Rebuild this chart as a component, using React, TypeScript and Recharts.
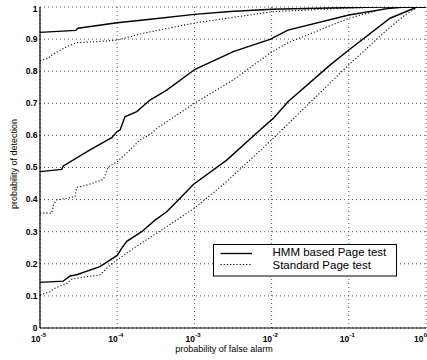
import React from 'react';
import { LineChart, Line, XAxis, YAxis, CartesianGrid, Legend } from 'recharts';

const xTicks = [1e-5, 1e-4, 1e-3, 1e-2, 1e-1, 1];
const yTicks = [0, 0.1, 0.2, 0.3, 0.4, 0.5, 0.6, 0.7, 0.8, 0.9, 1];

const hmmHighPfa = [1e-5, 2.9e-5, 3.1e-5, 1e-4, 2.7e-4, 1e-3, 2.9e-3, 1e-2, 5.7e-2, 0.25, 1];
const hmmHighPd = [0.921, 0.927, 0.934, 0.951, 0.962, 0.977, 0.986, 0.993, 0.997, 1.0, 1.0];

const stdHighPfa = [1e-5, 1.28e-5, 1.35e-5, 1.91e-5, 2.22e-5, 2.99e-5, 5.42e-5, 1e-4, 2.16e-4, 1e-3, 1e-2, 0.1, 0.32, 1];
const stdHighPd = [0.833, 0.84, 0.847, 0.868, 0.876, 0.889, 0.892, 0.897, 0.918, 0.95, 0.985, 0.997, 1.0, 1.0];

const hmmMidPfa = [1e-5, 1.91e-5, 2.01e-5, 4.44e-5, 8.49e-5, 1e-4, 1.09e-4, 1.26e-4, 1.79e-4, 2.66e-4, 4.38e-4, 1.02e-3, 3.19e-3, 9.53e-3, 1.63e-2, 0.1, 0.316, 0.535, 1];
const hmmMidPd = [0.487, 0.494, 0.505, 0.555, 0.593, 0.612, 0.617, 0.658, 0.674, 0.71, 0.741, 0.806, 0.861, 0.899, 0.928, 0.975, 0.995, 1.0, 1.0];

const stdMidPfa = [1e-5, 1.42e-5, 1.49e-5, 1.64e-5, 2.22e-5, 2.84e-5, 2.99e-5, 4.02e-5, 6.61e-5, 7.67e-5, 1e-4, 1.47e-4, 1.97e-4, 2.66e-4, 3.4e-4, 1e-3, 3.19e-3, 9.53e-3, 1.57e-2, 0.1, 0.206, 0.342, 1];
const stdMidPd = [0.358, 0.358, 0.383, 0.399, 0.404, 0.409, 0.438, 0.445, 0.463, 0.502, 0.518, 0.555, 0.586, 0.603, 0.625, 0.7, 0.773, 0.856, 0.887, 0.965, 0.985, 1.0, 1.0];

const hmmLowPfa = [1e-5, 2.0e-5, 2.45e-5, 2.99e-5, 5.98e-5, 1e-4, 1.14e-4, 1.33e-4, 2.08e-4, 3.09e-4, 4.38e-4, 6.51e-4, 9.69e-4, 2.62e-3, 7.08e-3, 1.05e-2, 1.63e-2, 5.7e-2, 0.1, 0.342, 0.764, 1];
const hmmLowPd = [0.142, 0.146, 0.162, 0.166, 0.191, 0.226, 0.248, 0.27, 0.3, 0.336, 0.362, 0.404, 0.447, 0.523, 0.617, 0.653, 0.705, 0.819, 0.866, 0.965, 1.0, 1.0];

const stdLowPfa = [1e-5, 1.35e-5, 1.56e-5, 2.22e-5, 2.58e-5, 4.02e-5, 5.98e-5, 8.07e-5, 1e-4, 1.62e-4, 4.38e-4, 1e-3, 2.62e-3, 1e-2, 0.1, 0.316, 0.535, 0.787, 1];
const stdLowPd = [0.103, 0.113, 0.124, 0.139, 0.152, 0.16, 0.165, 0.196, 0.212, 0.248, 0.316, 0.373, 0.456, 0.586, 0.82, 0.93, 0.975, 1.0, 1.0];

const zip = (xs: number[], ys: number[]) => xs.map((x, i) => ({ pfa: x, pd: ys[i] }));

const FONT = '"Liberation Sans", Arial, Helvetica, sans-serif';

const XTick = (props: any) => {
  const { x, y, payload } = props;
  const exp = Math.round(Math.log10(payload.value));
  return (
    <g>
      <text x={x + 0.5} y={y + 13.7} textAnchor="end" fontSize={8.5} fontWeight="bold" fontFamily={FONT} fill="#000">10</text>
      <text x={x + 0.8} y={y + 9} textAnchor="start" fontSize={6} fontWeight="bold" fontFamily={FONT} fill="#000">{exp}</text>
    </g>
  );
};

const YTick = (props: any) => {
  const { x, y, payload } = props;
  const v = payload.value;
  const label = v === 0 ? '0' : v === 1 ? '1' : v.toFixed(1);
  return (
    <text x={x} y={y} dy="0.33em" textAnchor="end" fontSize={8.5} fontWeight="bold" fontFamily={FONT} fill="#000">{label}</text>
  );
};

const XLabel = (props: any) => {
  const { viewBox } = props;
  return (
    <text x={viewBox.x + 184} y={viewBox.y + 24} textAnchor="middle" fontSize={9} fontFamily={FONT} fill="#000">probability of false alarm</text>
  );
};

const YLabel = (props: any) => {
  const { viewBox } = props;
  const cx = viewBox.x + 17;
  const cy = viewBox.y + 157;
  return (
    <text x={cx} y={cy} transform={`rotate(-90 ${cx} ${cy})`} textAnchor="middle" fontSize={9} fontFamily={FONT} fill="#000">probability of detection</text>
  );
};

const LegendBox = (props: any) => {
  const items = (props.payload || []).filter((p: any) => p.type !== 'none' && p.value);
  return (
    <svg width={184} height={33} style={{ display: 'block' }}>
      <rect x={0.5} y={0.5} width={183} height={31.5} fill="#fff" stroke="#000" strokeWidth={1} />
      {items.map((it: any, i: number) => (
        <g key={i}>
          <line x1={7.5} x2={39} y1={9.5 + i * 11} y2={9.5 + i * 11} stroke="#000" strokeWidth={it.payload && it.payload.strokeDasharray ? 1.1 : 1.3} strokeDasharray={it.payload ? it.payload.strokeDasharray : undefined} />
          <text x={59.5} y={12.2 + i * 12.8} fontSize={11.5} fontFamily={FONT} fill="#000">{it.value}</text>
        </g>
      ))}
    </svg>
  );
};

export default function App() {
  const solid = { stroke: '#000', strokeWidth: 1.4 };
  const dotted = { stroke: '#111', strokeWidth: 1.1, strokeDasharray: '1.2 2' };
  return (
    <div style={{ position: 'absolute', left: 0, top: 0, background: '#fff' }}>
      <LineChart width={427} height={360} margin={{ top: 7, right: 1, bottom: 0, left: 0 }}>
        <CartesianGrid stroke="#555" strokeDasharray="1 3" strokeWidth={1} />
        <XAxis
          dataKey="pfa"
          type="number"
          scale="log"
          domain={[1e-5, 1]}
          ticks={xTicks}
          allowDataOverflow
          height={32}
          tickLine={false}
          tickSize={0}
          tickMargin={0}
          axisLine={{ stroke: '#000', strokeWidth: 1.2 }}
          tick={<XTick />}
          label={<XLabel />}
        />
        <YAxis
          type="number"
          domain={[0, 1]}
          ticks={yTicks}
          allowDataOverflow
          width={40}
          tickLine={false}
          tickSize={0}
          tickMargin={2.5}
          axisLine={{ stroke: '#000', strokeWidth: 1.2 }}
          tick={<YTick />}
          label={<YLabel />}
        />
        <XAxis xAxisId="top" orientation="top" mirror type="number" scale="log" domain={[1e-5, 1]} ticks={xTicks} allowDataOverflow height={0} tick={false} tickSize={4} tickLine={{ stroke: '#000' }} axisLine={{ stroke: '#000' }} />
        <XAxis xAxisId="bottomIn" orientation="bottom" mirror type="number" scale="log" domain={[1e-5, 1]} ticks={xTicks} allowDataOverflow height={0} tick={false} tickSize={4} tickLine={{ stroke: '#000' }} axisLine={false} />
        <YAxis yAxisId="right" orientation="right" mirror type="number" domain={[0, 1]} ticks={yTicks} allowDataOverflow width={0} tick={false} tickSize={4} tickLine={{ stroke: '#000' }} axisLine={{ stroke: '#000' }} />
        <YAxis yAxisId="leftIn" orientation="left" mirror type="number" domain={[0, 1]} ticks={yTicks} allowDataOverflow width={0} tick={false} tickSize={4} tickLine={{ stroke: '#000' }} axisLine={false} />
        <Line data={zip(hmmHighPfa, hmmHighPd)} dataKey="pd" name="HMM based Page test" type="linear" dot={false} isAnimationActive={false} {...solid} />
        <Line data={zip(stdHighPfa, stdHighPd)} dataKey="pd" name="Standard Page test" type="linear" dot={false} isAnimationActive={false} {...dotted} />
        <Line data={zip(hmmMidPfa, hmmMidPd)} dataKey="pd" legendType="none" type="linear" dot={false} isAnimationActive={false} {...solid} />
        <Line data={zip(stdMidPfa, stdMidPd)} dataKey="pd" legendType="none" type="linear" dot={false} isAnimationActive={false} {...dotted} />
        <Line data={zip(hmmLowPfa, hmmLowPd)} dataKey="pd" legendType="none" type="linear" dot={false} isAnimationActive={false} {...solid} />
        <Line data={zip(stdLowPfa, stdLowPd)} dataKey="pd" legendType="none" type="linear" dot={false} isAnimationActive={false} {...dotted} />
        <Legend
          layout="vertical"
          align="center"
          verticalAlign="middle"
          content={<LegendBox />}
          wrapperStyle={{ left: 212.5, top: 244, width: 184, height: 33 }}
        />
      </LineChart>
    </div>
  );
}
